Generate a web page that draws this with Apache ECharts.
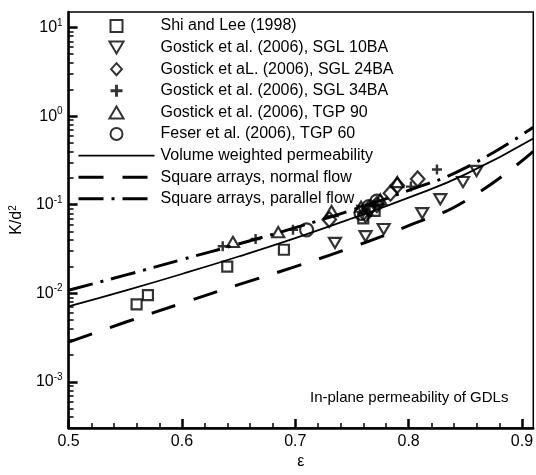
<!DOCTYPE html>
<html>
<head>
<meta charset="utf-8">
<title>In-plane permeability of GDLs</title>
<script src="https://cdn.jsdelivr.net/npm/echarts@6/dist/echarts.min.js"></script>
<style>
  html, body { margin: 0; padding: 0; background: #fff; }
  #main { width: 536px; height: 475px; }
</style>
</head>
<body>
<div id="main"></div>
<script>
// axis ticks
const xTicks = [0.5, 0.6, 0.7, 0.8, 0.9];
const xMinorTicks = [0.52, 0.54, 0.56, 0.58, 0.62, 0.64, 0.66, 0.68, 0.72, 0.74, 0.76, 0.78,
  0.82, 0.84, 0.86, 0.88];
const yTicks = [0.001, 0.01, 0.1, 1, 10];
const yMinorTicks = [0.0004, 0.0005, 0.0006, 0.0007, 0.0008, 0.0009,
  0.002, 0.003, 0.004, 0.005, 0.006, 0.007, 0.008, 0.009,
  0.02, 0.03, 0.04, 0.05, 0.06, 0.07, 0.08, 0.09,
  0.2, 0.3, 0.4, 0.5, 0.6, 0.7, 0.8, 0.9,
  2, 3, 4, 5, 6, 7, 8, 9];

// measured data [porosity, K/d^2]
const shiLee = [[0.56, 0.0075], [0.57, 0.0095], [0.64, 0.02], [0.69, 0.031], [0.76, 0.07], [0.77, 0.085]];
const sgl10 = [[0.735, 0.037], [0.762, 0.044], [0.778, 0.053], [0.812, 0.08], [0.828, 0.115],
  [0.848, 0.18], [0.86, 0.24], [0.76, 0.085]];
const sgl24 = [[0.73, 0.068], [0.762, 0.078], [0.765, 0.09], [0.772, 0.1], [0.784, 0.135],
  [0.79, 0.165], [0.808, 0.195]];
const sgl34 = [[0.636, 0.034], [0.665, 0.041], [0.698, 0.052], [0.77, 0.1], [0.802, 0.16], [0.825, 0.25]];
const tgp90 = [[0.645, 0.038], [0.685, 0.049], [0.732, 0.085], [0.758, 0.095], [0.775, 0.115], [0.79, 0.18]];
const tgp60 = [[0.71, 0.052], [0.758, 0.08], [0.765, 0.095], [0.772, 0.11]];

// model curves
const volumeWeighted = [[0.5, 0.0071], [0.55, 0.0107], [0.6, 0.0165], [0.65, 0.026], [0.7, 0.042],
  [0.75, 0.07], [0.8, 0.12], [0.85, 0.22], [0.91, 0.56]];
const normalFlow = [[0.5, 0.0028], [0.55, 0.0047], [0.6, 0.0077], [0.65, 0.0125], [0.7, 0.02],
  [0.75, 0.033], [0.8, 0.058], [0.85, 0.11], [0.91, 0.4]];
const parallelFlow = [[0.5, 0.0108], [0.55, 0.016], [0.6, 0.024], [0.65, 0.036], [0.7, 0.055],
  [0.75, 0.087], [0.8, 0.145], [0.85, 0.26], [0.91, 0.75]];

const FONT = 'Liberation Sans, Arial, sans-serif';
// path symbols keep their aspect in the legend too
const squarePath = 'path://M0,0L10,0L10,10L0,10Z';
const diamondPath = 'path://M0,-10L9,0L0,10L-9,0Z';
const upTriangle = 'path://M0,-10L10,7L-10,7Z';
const downTriangle = 'path://M0,10L-10,-7L10,-7Z';
const plusPath = 'path://M-1.2,-5L1.2,-5L1.2,-1.2L5,-1.2L5,1.2L1.2,1.2L1.2,5L-1.2,5L-1.2,1.2L-5,1.2L-5,-1.2L-1.2,-1.2Z';

function hollow(name, data, symbol, size) {
  return {
    name: name, type: 'scatter', data: data, symbol: symbol, symbolSize: size, symbolKeepAspect: true,
    itemStyle: { color: 'rgba(0,0,0,0)', borderColor: '#000', borderWidth: 2.2 },
    z: 5
  };
}
function curve(name, data, width, type) {
  return {
    name: name, type: 'line', data: data, smooth: true, symbol: 'none',
    itemStyle: { color: 'rgba(0,0,0,0)', borderWidth: 0 },
    lineStyle: { color: '#000', width: width, type: type },
    z: 3
  };
}

var myChart = echarts.init(document.getElementById('main'));
var option = {
  animation: false,
  backgroundColor: '#fff',
  textStyle: { fontFamily: FONT },
  grid: { left: 66, right: 1, top: 12, bottom: 36, show: true, borderColor: '#000', borderWidth: 1.5 },
  legend: {
    orient: 'vertical', left: 72, top: 13, itemWidth: 76, itemHeight: 12, itemGap: 5.6,
    symbolKeepAspect: true,
    textStyle: { fontSize: 16, color: '#000', fontFamily: FONT, padding: [0, 0, 0, 1] },
    data: [
      'Shi and Lee (1998)',
      'Gostick et al. (2006), SGL 10BA',
      'Gostick et aL. (2006), SGL 24BA',
      'Gostick et al. (2006), SGL 34BA',
      'Gostick et al. (2006), TGP 90',
      'Feser et al. (2006), TGP 60',
      { name: 'Volume weighted permeability', lineStyle: { width: 1.8 } },
      { name: 'Square arrays, normal flow', lineStyle: { width: 3 } },
      { name: 'Square arrays, parallel flow', lineStyle: { width: 3 } }
    ]
  },
  xAxis: [{
    type: 'value', min: 0.5, max: 0.91,
    name: 'ε', nameLocation: 'middle', nameGap: 20,
    nameTextStyle: { fontSize: 16, color: '#000', fontFamily: FONT },
    axisLine: { lineStyle: { color: '#000', width: 2.5 } },
    axisTick: { inside: true, length: 9, lineStyle: { color: '#000', width: 2.5 }, customValues: xTicks },
    axisLabel: { customValues: xTicks, color: '#000', fontSize: 16, margin: 5, fontFamily: FONT,
      formatter: function (v) { return v.toFixed(1); } },
    splitLine: { show: false }
  }, {
    type: 'value', min: 0.5, max: 0.91, position: 'bottom',
    axisLine: { show: false },
    axisTick: { inside: true, length: 5, lineStyle: { color: '#000', width: 1.5 }, customValues: xMinorTicks },
    axisLabel: { show: false },
    splitLine: { show: false }
  }],
  yAxis: [{
    type: 'log', min: 0.0003, max: 15,
    name: 'K/d{sup|2}', nameLocation: 'middle', nameGap: 33, nameRotate: 90,
    nameTextStyle: { fontSize: 16, color: '#000', fontFamily: FONT,
      rich: { sup: { fontSize: 10, padding: [0, 0, 8, 0], color: '#000', fontFamily: FONT } } },
    axisLine: { lineStyle: { color: '#000', width: 2.5 } },
    axisTick: { inside: true, length: 9, lineStyle: { color: '#000', width: 2.5 }, customValues: yTicks },
    axisLabel: {
      customValues: yTicks, color: '#000', fontSize: 16, margin: 6, fontFamily: FONT,
      formatter: function (v) { return '10{sup|' + Math.round(Math.log10(v)) + '}'; },
      rich: { sup: { fontSize: 10, padding: [0, 0, 9, 0], color: '#000', fontFamily: FONT } }
    },
    splitLine: { show: false }
  }, {
    type: 'log', min: 0.0003, max: 15, position: 'left',
    axisLine: { show: false },
    axisTick: { inside: true, length: 5, lineStyle: { color: '#000', width: 1.5 }, customValues: yMinorTicks },
    axisLabel: { show: false },
    splitLine: { show: false }
  }],
  graphic: [{
    type: 'text', left: 310, top: 390,
    style: { text: 'In-plane permeability of GDLs', fontSize: 15, fill: '#000', fontFamily: FONT }
  }],
  series: [
    hollow('Shi and Lee (1998)', shiLee, squarePath, 10),
    hollow('Gostick et al. (2006), SGL 10BA', sgl10, downTriangle, 12),
    hollow('Gostick et aL. (2006), SGL 24BA', sgl24, diamondPath, 15),
    {
      name: 'Gostick et al. (2006), SGL 34BA', type: 'scatter', data: sgl34, symbol: plusPath, symbolSize: 10,
      symbolKeepAspect: true, itemStyle: { color: '#000' }, z: 5
    },
    hollow('Gostick et al. (2006), TGP 90', tgp90, upTriangle, 12),
    hollow('Feser et al. (2006), TGP 60', tgp60, 'circle', 13),
    curve('Volume weighted permeability', volumeWeighted, 1.8, 'solid'),
    curve('Square arrays, normal flow', normalFlow, 3, [25, 19]),
    curve('Square arrays, parallel flow', parallelFlow, 3, [25, 8, 3, 8])
  ]
};
myChart.setOption(option);
</script>
</body>
</html>
